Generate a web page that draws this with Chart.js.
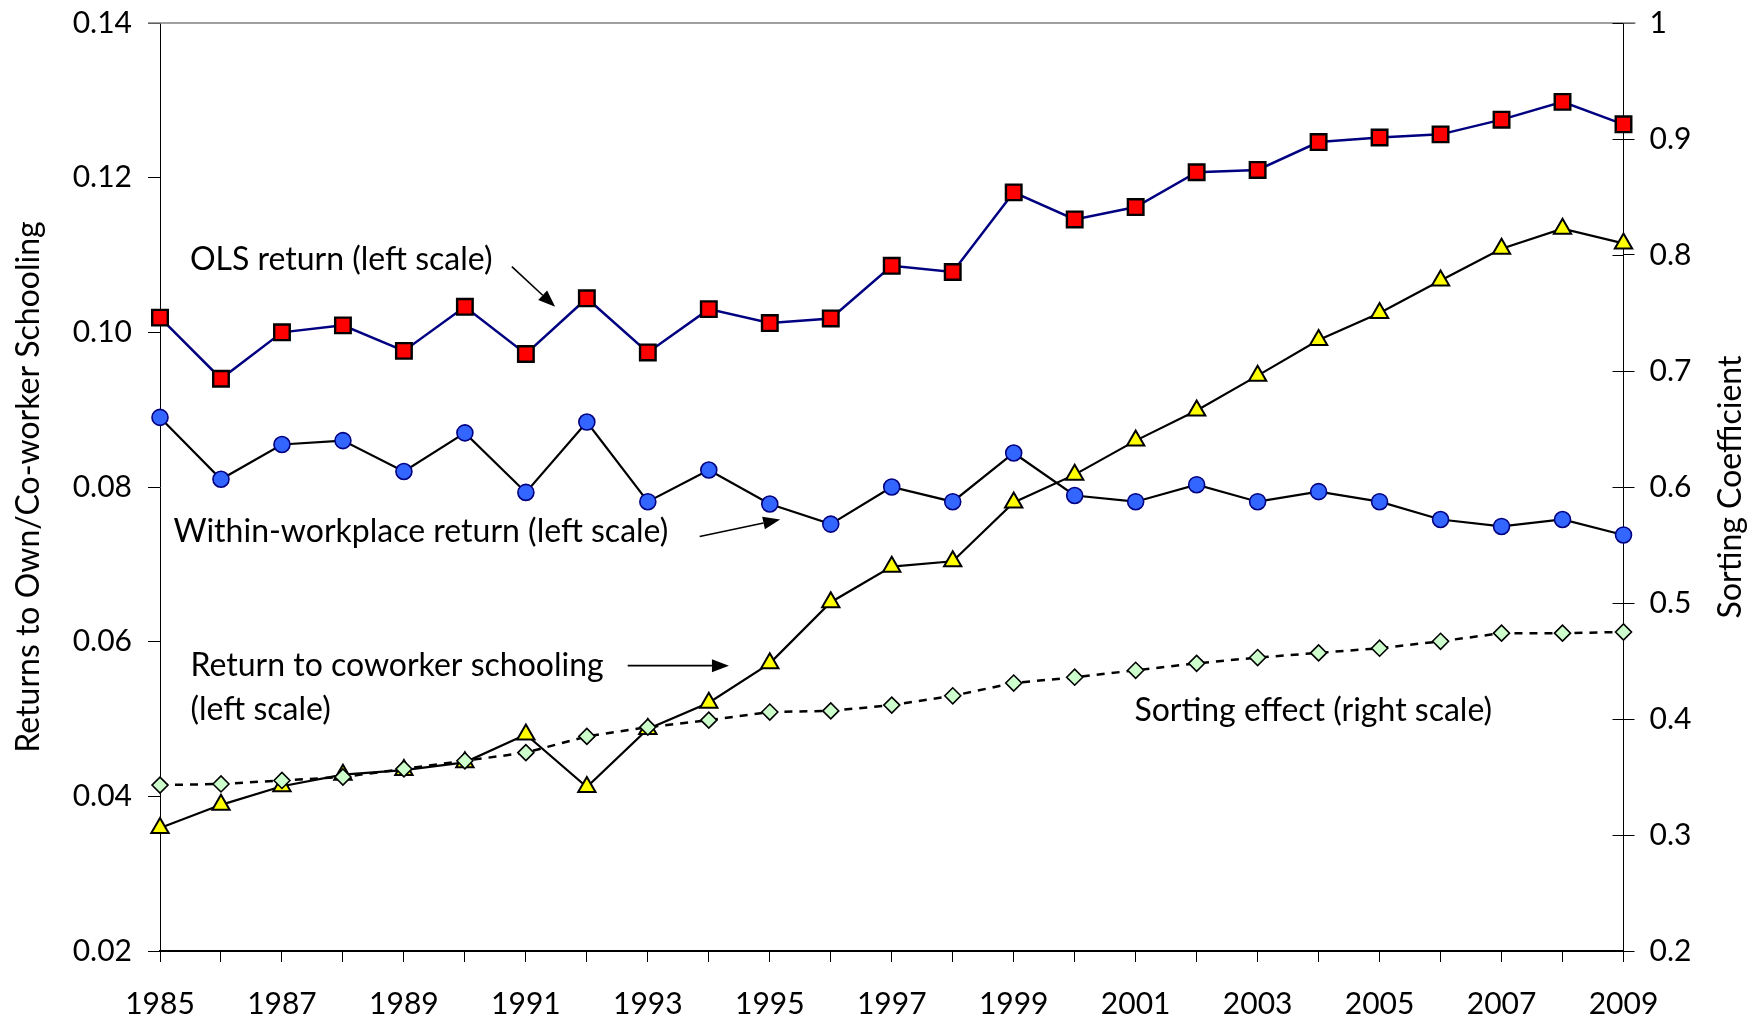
<!DOCTYPE html>
<html>
<head>
<meta charset="utf-8">
<script src="https://cdn.jsdelivr.net/npm/chart.js@4.4.1/dist/chart.umd.min.js"></script>
<style>
  html, body { margin: 0; padding: 0; background: #fff; }
  #wrap { width: 1762px; height: 1025px; }
</style>
</head>
<body>
<div id="wrap"><canvas id="schoolChart" width="1762" height="1025"></canvas></div>
<script>
// Returns to schooling 1985-2009
const years = [1985, 1986, 1987, 1988, 1989, 1990, 1991, 1992, 1993, 1994, 1995, 1996,
  1997, 1998, 1999, 2000, 2001, 2002, 2003, 2004, 2005, 2006, 2007, 2008, 2009];

const olsReturn = [0.1019, 0.0940, 0.1000, 0.1009, 0.0976, 0.1033, 0.0972, 0.1044, 0.0974,
  0.1030, 0.1012, 0.1018, 0.1086, 0.1078, 0.1181, 0.1146, 0.1162, 0.1207, 0.1210, 0.1246,
  0.1252, 0.1256, 0.1275, 0.1298, 0.1269];

const withinReturn = [0.0890, 0.0810, 0.0855, 0.0860, 0.0820, 0.0870, 0.0793, 0.0884, 0.0781,
  0.0822, 0.0778, 0.0752, 0.0800, 0.0781, 0.0844, 0.0789, 0.0781, 0.0803, 0.0781, 0.0794,
  0.0781, 0.0758, 0.0749, 0.0758, 0.0738];

const coworkerReturn = [0.0359, 0.0389, 0.0413, 0.0428, 0.0434, 0.0444, 0.0480, 0.0412, 0.0487,
  0.0521, 0.0572, 0.0651, 0.0697, 0.0704, 0.0780, 0.0816, 0.0860, 0.0899, 0.0944, 0.0990,
  0.1025, 0.1067, 0.1108, 0.1134, 0.1115];

// right scale
const sortingEffect = [0.343, 0.344, 0.347, 0.350, 0.357, 0.364, 0.371, 0.385, 0.393, 0.399,
  0.406, 0.407, 0.412, 0.420, 0.431, 0.436, 0.442, 0.448, 0.453, 0.457, 0.461, 0.467,
  0.474, 0.474, 0.475];

const leftTicks = ['0.02', '0.04', '0.06', '0.08', '0.10', '0.12', '0.14'];
const rightTicks = ['0.2', '0.3', '0.4', '0.5', '0.6', '0.7', '0.8', '0.9', '1'];

// text labels placed in data units (x = year index, y = left scale)
const notes = [
  { lines: ['OLS return (left scale)'], x: 0.49, y: 0.1080 },
  { lines: ['Within-workplace return (left scale)'], x: 0.22, y: 0.0729 },
  { lines: ['Return to coworker schooling', '(left scale)'], x: 0.50, y: 0.0556 },
  { lines: ['Sorting effect (right scale)'], x: 15.98, y: 0.0498 }
];
const arrows = [
  { from: [5.77, 0.1085], to: [6.48, 0.1033] },
  { from: [8.85, 0.0736], to: [10.17, 0.0758] },
  { from: [7.67, 0.0569], to: [9.33, 0.0569] }
];

Chart.defaults.font.family = 'Lato';
Chart.defaults.color = '#000';

const annotations = {
  id: 'annotations',
  afterDatasetsDraw(chart) {
    const { ctx, chartArea, scales: { x, y, y1 } } = chart;
    ctx.save();

    // top border
    ctx.strokeStyle = '#7f7f7f';
    ctx.lineWidth = 1.5;
    ctx.beginPath();
    ctx.moveTo(chartArea.left - 12, chartArea.top);
    ctx.lineTo(chartArea.right + 12, chartArea.top);
    ctx.stroke();

    // right axis ticks also cross into the plot
    ctx.strokeStyle = '#000';
    ctx.lineWidth = 1;
    y1.ticks.forEach(t => {
      const py = Math.round(y1.getPixelForValue(t.value)) + 0.5;
      ctx.beginPath();
      ctx.moveTo(chartArea.right - 11, py);
      ctx.lineTo(chartArea.right, py);
      ctx.stroke();
    });

    ctx.fillStyle = '#000';

    // right axis title reads bottom-to-top like the left one
    ctx.save();
    ctx.font = '32px Lato';
    ctx.textAlign = 'center';
    ctx.textBaseline = 'middle';
    ctx.translate(1731, (chartArea.top + chartArea.bottom) / 2);
    ctx.rotate(-Math.PI / 2);
    ctx.fillText('Sorting Coefficient', 0, 0);
    ctx.restore();

    ctx.font = '32px Lato';
    ctx.textBaseline = 'alphabetic';
    ctx.textAlign = 'left';
    notes.forEach(n => {
      const px = x.getPixelForValue(n.x);
      const py = y.getPixelForValue(n.y);
      n.lines.forEach((line, i) => ctx.fillText(line, px, py + i * 44));
    });

    ctx.lineWidth = 1.6;
    arrows.forEach(a => {
      const x0 = x.getPixelForValue(a.from[0]), y0 = y.getPixelForValue(a.from[1]);
      const x1 = x.getPixelForValue(a.to[0]), y1p = y.getPixelForValue(a.to[1]);
      const ang = Math.atan2(y1p - y0, x1 - x0);
      const len = 17, half = 6.5;
      const bx = x1 - len * Math.cos(ang), by = y1p - len * Math.sin(ang);
      ctx.beginPath();
      ctx.moveTo(x0, y0);
      ctx.lineTo(bx, by);
      ctx.stroke();
      ctx.beginPath();
      ctx.moveTo(x1, y1p);
      ctx.lineTo(bx + half * Math.sin(ang), by - half * Math.cos(ang));
      ctx.lineTo(bx - half * Math.sin(ang), by + half * Math.cos(ang));
      ctx.closePath();
      ctx.fill();
    });
    ctx.restore();
  }
};

new Chart(document.getElementById('schoolChart'), {
  type: 'line',
  data: {
    labels: years,
    datasets: [
      {
        label: 'Sorting effect (right scale)',
        data: sortingEffect,
        yAxisID: 'y1',
        order: 0,
        borderColor: '#000',
        borderWidth: 2.5,
        borderDash: [8, 7],
        pointStyle: 'rectRot',
        pointRadius: 8,
        pointBackgroundColor: '#ccffcc',
        pointBorderColor: '#000',
        pointBorderWidth: 1.6,
        tension: 0
      },
      {
        label: 'Return to coworker schooling',
        data: coworkerReturn,
        yAxisID: 'y',
        order: 1,
        borderColor: '#000',
        borderWidth: 2.2,
        pointStyle: 'triangle',
        pointRadius: 10,
        pointBackgroundColor: '#ffff00',
        pointBorderColor: '#000',
        pointBorderWidth: 2,
        tension: 0
      },
      {
        label: 'Within-workplace return',
        data: withinReturn,
        yAxisID: 'y',
        order: 2,
        borderColor: '#000',
        borderWidth: 2.2,
        pointStyle: 'circle',
        pointRadius: 8,
        pointBackgroundColor: '#3366ff',
        pointBorderColor: '#000080',
        pointBorderWidth: 1.6,
        tension: 0
      },
      {
        label: 'OLS return',
        data: olsReturn,
        yAxisID: 'y',
        order: 3,
        borderColor: '#000080',
        borderWidth: 2.5,
        pointStyle: 'rect',
        pointRadius: 11,
        pointBackgroundColor: '#ff0000',
        pointBorderColor: '#000',
        pointBorderWidth: 2.4,
        tension: 0
      }
    ]
  },
  options: {
    responsive: false,
    animation: false,
    events: [],
    layout: { padding: { top: 23, right: 0, bottom: 0, left: 0 } },
    plugins: { legend: { display: false }, tooltip: { enabled: false } },
    scales: {
      x: {
        type: 'category',
        offset: false,
        grid: { offset: false, drawOnChartArea: false, tickLength: 11, color: '#000', lineWidth: 1 },
        border: { color: '#000', width: 2 },
        ticks: {
          autoSkip: false, maxRotation: 0, padding: 24,
          font: { size: 30 },
          callback: (v, i) => (i % 2 === 0 ? String(years[i]) : '')
        },
        afterFit: s => { s.height = 74; }
      },
      y: {
        position: 'left',
        min: 0.02, max: 0.14,
        grid: { drawOnChartArea: false, tickLength: 12, color: '#000', lineWidth: 1 },
        border: { color: '#000', width: 1 },
        ticks: {
          stepSize: 0.02, padding: 16, font: { size: 30 },
          callback: (v, i) => leftTicks[i]
        },
        title: {
          display: true, text: 'Returns to Own/Co-worker Schooling',
          font: { size: 32 }, padding: { top: 9, bottom: 0 }
        },
        afterFit: s => { s.width = 160; s.paddingTop = 0; s.paddingBottom = 0; }
      },
      y1: {
        position: 'right',
        min: 0.2, max: 1,
        grid: { drawOnChartArea: false, tickLength: 11, color: '#000', lineWidth: 1 },
        border: { color: '#000', width: 1 },
        ticks: {
          stepSize: 0.1, padding: 15, font: { size: 30 },
          callback: (v, i) => rightTicks[i]
        },
        afterFit: s => { s.width = 138.5; s.paddingTop = 0; s.paddingBottom = 0; }
      }
    }
  },
  plugins: [annotations]
});
</script>
</body>
</html>
